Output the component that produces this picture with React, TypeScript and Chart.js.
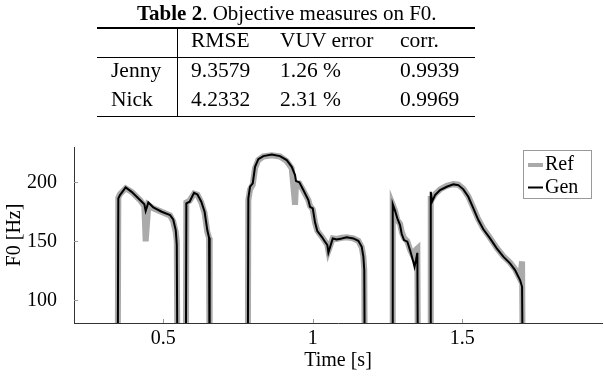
import React, { useEffect, useRef } from "react";
import { Chart, registerables } from "chart.js";

Chart.register(...registerables);

// ---- Table data ----
const tableTitleBold = "Table 2";
const tableTitleRest = ". Objective measures on F0.";
const tableHeader = ["RMSE", "VUV error", "corr."];
const speakers = ["Jenny", "Nick"];
const rmseValues = ["9.3579", "4.2332"];
const vuvValues = ["1.26 %", "2.31 %"];
const corrValues = ["0.9939", "0.9969"];

// ---- Chart data (time in s, F0 in Hz; 0 = unvoiced) ----
const times = [
  0.347, 0.3495, 0.355, 0.374, 0.394, 0.422, 0.4365, 0.441, 0.45, 0.4665, 0.4945, 0.5225, 0.533, 0.5415, 0.545, 0.548,
  0.575, 0.577, 0.588, 0.6027, 0.614, 0.627, 0.638, 0.647, 0.653, 0.655,
  0.782, 0.7843, 0.79, 0.799, 0.8067, 0.8177, 0.8344, 0.8625, 0.89, 0.9127, 0.9294, 0.9405, 0.9438, 0.9548, 0.9682,
  0.985, 0.9906, 0.9997, 1.0073, 1.015, 1.0298, 1.0408, 1.0485, 1.052, 1.0666, 1.08, 1.0967, 1.1134, 1.1355, 1.1522,
  1.1635, 1.169, 1.172, 1.1746,
  1.265, 1.2672, 1.275, 1.2826, 1.2916, 1.2973, 1.305, 1.316, 1.325, 1.336, 1.34, 1.345, 1.3495, 1.352,
  1.392, 1.3943, 1.3987, 1.4087, 1.4254, 1.4478, 1.47, 1.4866, 1.5033, 1.52, 1.5368, 1.5535, 1.5702, 1.5926, 1.615,
  1.637, 1.6595, 1.6763, 1.693, 1.6997, 1.703,
];
const genF0 = [
  0, 186.4, 189.2, 195.8, 192.0, 185.0, 181.4, 175.7, 183.0, 178.8, 175.1, 172.3, 168.6, 159.6, 147, 0,
  0, 182.2, 183.6, 191.2, 189.8, 183.6, 175.1, 159.6, 153, 0,
  0, 186.4, 196.3, 199.2, 213.2, 219.7, 222.3, 223.7, 222.3, 218.9, 213.2, 206.2, 201.1, 200.0, 193.5,
  185.0, 179.3, 178.0, 166.1, 158.7, 153.9, 149.7, 146.9, 140.5, 152.5, 151.7, 152.5, 153.4, 152.5, 150.5,
  145.4, 137.0, 125.7, 0,
  0, 181.6, 175.9, 169.5, 163.8, 156.2, 151.1, 149.7, 142.6, 132.7, 128.5, 134.2, 140.3, 0,
  0, 192.0, 183.6, 189.2, 193.5, 196.3, 198.3, 197.7, 194.1, 187.8, 178.0, 168.1, 160.2, 152.5, 144.1,
  137.0, 131.4, 125.7, 117.2, 111.5, 0,
];
const refF0 = [
  0, 187, 190, 195, 192, 185, 180, 150, 181, 178, 175, 172, 167, 158, 150, 0,
  0, 183, 184.5, 190.5, 189.5, 183, 174, 158, 153, 0,
  0, 185, 194, 198, 212, 219, 222, 223, 222, 218, 212, 181, 199, 199, 193,
  185, 180, 177, 166, 159, 154, 150, 147, 142, 152.5, 152, 153, 153.5, 152.5, 150.5,
  145, 137, 126, 0,
  0, 181, 176, 168, 165, 158, 153, 150, 143, 137, 139, 143, 144, 0,
  0, 186, 186, 190, 194, 197, 198.5, 198, 194.5, 188, 178.5, 168.5, 161, 153, 144.5,
  137.5, 132, 126.5, 118, 133, 0,
];
const xTicks = [0.5, 1, 1.5];
const yTicks = [100, 150, 200];
const seriesLabels = ["Ref", "Gen"];

const FONT = "'Liberation Serif', 'Times New Roman', serif";

const decorPlugin = {
  id: "decor",
  afterDraw(chart: any) {
    const { ctx, chartArea: ca, scales } = chart;
    const x = scales.x;
    const y = scales.y;
    ctx.save();
    // inward tick marks
    ctx.strokeStyle = "#999";
    ctx.lineWidth = 1;
    xTicks.forEach((v) => {
      const px = Math.round(x.getPixelForValue(v)) + 0.5;
      ctx.beginPath();
      ctx.moveTo(px, ca.bottom);
      ctx.lineTo(px, ca.bottom - 4);
      ctx.stroke();
    });
    yTicks.forEach((v) => {
      const py = Math.round(y.getPixelForValue(v)) + 0.5;
      ctx.beginPath();
      ctx.moveTo(ca.left, py);
      ctx.lineTo(ca.left + 4, py);
      ctx.stroke();
    });
    // legend box
    const bx = ca.right - 79;
    const by = ca.top + 3;
    const bw = 68;
    const bh = 48;
    ctx.fillStyle = "#fff";
    ctx.fillRect(bx, by, bw, bh);
    ctx.strokeStyle = "#999";
    ctx.strokeRect(bx + 0.5, by + 0.5, bw, bh);
    const ds = chart.data.datasets;
    const rows = [
      { ds: ds[0], cy: by + 15, ty: by + 20 },
      { ds: ds[1], cy: by + 37.5, ty: by + 43 },
    ];
    rows.forEach((r) => {
      ctx.strokeStyle = r.ds.borderColor;
      ctx.lineWidth = r.ds.label === "Ref" ? 4 : 2;
      ctx.beginPath();
      ctx.moveTo(bx + 5, r.cy);
      ctx.lineTo(bx + 20, r.cy);
      ctx.stroke();
      ctx.fillStyle = "#000";
      ctx.font = `20px ${FONT}`;
      ctx.textBaseline = "alphabetic";
      ctx.textAlign = "left";
      ctx.fillText(r.ds.label, bx + 22, r.ty);
    });
    ctx.restore();
  },
};

function ChartView() {
  const ref = useRef<HTMLCanvasElement | null>(null);
  useEffect(() => {
    if (!ref.current) return;
    const font = { family: FONT, size: 20 };
    const chart = new Chart(ref.current, {
      type: "line",
      data: {
        datasets: [
          {
            label: seriesLabels[0],
            data: times.map((t, i) => ({ x: t, y: refF0[i] })),
            borderColor: "#aaaaaa",
            borderWidth: 6,
            pointRadius: 0,
            tension: 0,
            clip: 0,
            order: 2,
          },
          {
            label: seriesLabels[1],
            data: times.map((t, i) => ({ x: t, y: genF0[i] })),
            borderColor: "#000000",
            borderWidth: 2,
            pointRadius: 0,
            tension: 0,
            clip: 0,
            order: 1,
          },
        ],
      },
      options: {
        animation: false,
        responsive: false,
        events: [],
        layout: { padding: { top: 147, right: 2, left: 0, bottom: 0 } },
        plugins: { legend: { display: false }, tooltip: { enabled: false } },
        scales: {
          x: {
            type: "linear",
            min: 0.2013,
            max: 1.967,
            afterBuildTicks: (s: any) => {
              s.ticks = xTicks.map((v) => ({ value: v }));
            },
            afterFit: (s: any) => {
              s.height = 57;
            },
            ticks: {
              font,
              color: "#000",
              padding: -4,
              maxRotation: 0,
              autoSkip: false,
              callback: (v: any) => String(v),
            },
            grid: { display: false },
            border: { display: true, color: "#333", width: 1 },
            title: {
              display: true,
              text: "Time [s]",
              font,
              color: "#000",
              padding: { top: 0, bottom: 7 },
            },
          },
          y: {
            type: "linear",
            min: 80.8,
            max: 230,
            afterBuildTicks: (s: any) => {
              s.ticks = yTicks.map((v) => ({ value: v }));
            },
            afterFit: (s: any) => {
              s.width = 74;
            },
            ticks: {
              font,
              color: "#000",
              padding: 9,
              autoSkip: false,
              callback: (v: any) => String(v),
            },
            grid: { display: false },
            border: { display: true, color: "#333", width: 1 },
            title: {
              display: true,
              text: "F0 [Hz]",
              font,
              color: "#000",
              padding: { top: 3, bottom: 0 },
            },
          },
        },
      },
      plugins: [decorPlugin],
    } as any);
    return () => chart.destroy();
  }, []);
  return (
    <canvas
      ref={ref}
      width={604}
      height={380}
      style={{ position: "absolute", left: 0, top: 0, width: 604, height: 380, display: "block" }}
    />
  );
}

const cellStyle = (left: number, top: number): React.CSSProperties => ({
  position: "absolute",
  left,
  top,
  fontSize: 21.5,
  lineHeight: "21.5px",
  whiteSpace: "nowrap",
  color: "#000",
});

const ruleStyle = (left: number, top: number, width: number, height: number): React.CSSProperties => ({
  position: "absolute",
  left,
  top,
  width,
  height,
  background: "#000",
});

export default function App() {
  const colX = [191, 280, 400];
  const rowTops = [60.3, 89.3];
  return (
    <div
      style={{
        position: "absolute",
        left: 0,
        top: 0,
        width: 604,
        height: 380,
        background: "#fff",
        fontFamily: FONT,
        overflow: "hidden",
      }}
    >
      <ChartView />
      <div style={{ ...cellStyle(137, 3.1), fontSize: 21, lineHeight: "21px" }}>
        <b>{tableTitleBold}</b>
        {tableTitleRest}
      </div>
      <div style={ruleStyle(97, 27, 378, 1.5)} />
      <div style={ruleStyle(97, 57, 378, 1)} />
      <div style={ruleStyle(97, 115.5, 378, 1.5)} />
      <div style={ruleStyle(176.5, 27, 1, 90)} />
      {tableHeader.map((h, i) => (
        <div key={h} style={cellStyle(colX[i], 30.3)}>
          {h}
        </div>
      ))}
      {speakers.map((s, r) => (
        <React.Fragment key={s}>
          <div style={cellStyle(111, rowTops[r])}>{s}</div>
          <div style={cellStyle(colX[0], rowTops[r])}>{rmseValues[r]}</div>
          <div style={cellStyle(colX[1], rowTops[r])}>{vuvValues[r]}</div>
          <div style={cellStyle(colX[2], rowTops[r])}>{corrValues[r]}</div>
        </React.Fragment>
      ))}
    </div>
  );
}
